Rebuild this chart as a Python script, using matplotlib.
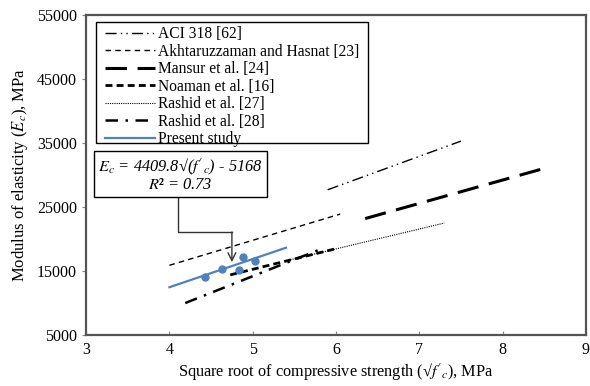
import matplotlib
matplotlib.use("Agg")
import matplotlib.pyplot as plt
from matplotlib.patches import Rectangle

plt.rcParams['font.family'] = ['Liberation Serif', 'DejaVu Serif']
plt.rcParams['mathtext.fontset'] = 'stix'

# model lines: end points (sqrt f'c, Ec)
aci_x = [5.9, 7.5]
aci_y = [27700, 35300]
akh_x = [4.0, 6.05]
akh_y = [15900, 23900]
mansur_x = [6.35, 8.57]
mansur_y = [23200, 31300]
noaman_x = [4.73, 6.0]
noaman_y = [14400, 18500]
rashid27_x = [5.4, 7.3]
rashid27_y = [16600, 22500]
rashid28_x = [4.19, 5.85]
rashid28_y = [10000, 18600]

# present study
fit_x = [4.0, 5.4]
fit_y = [4409.8 * v - 5168 for v in fit_x]
pts_x = [4.43, 4.63, 4.84, 4.88, 5.03]
pts_y = [14100, 15300, 15200, 17200, 16600]

fig = plt.figure(figsize=(5.9, 3.86), dpi=100)
ax = fig.add_axes([0.146, 0.132, 0.847, 0.829])

ax.plot(aci_x, aci_y, color='black', lw=1.0, dashes=(8, 3, 1, 3, 1, 3), label='ACI 318 [62]')
ax.plot(akh_x, akh_y, color='black', lw=1.0, dashes=(4, 3), label='Akhtaruzzaman and Hasnat [23]')
ax.plot(mansur_x, mansur_y, color='black', lw=2.2, dashes=(7, 3.5), label='Mansur et al. [24]')
ax.plot(noaman_x, noaman_y, color='black', lw=2.0, dashes=(2.5, 1.5), label='Noaman et al. [16]')
ax.plot(rashid27_x, rashid27_y, color='black', lw=0.8, dashes=(1, 1), label='Rashid et al. [27]')
ax.plot(rashid28_x, rashid28_y, color='black', lw=1.8, dashes=(5, 3, 1, 3), label='Rashid et al. [28]')
ax.plot(fit_x, fit_y, color='#4F81BD', lw=1.6, label='Present study')
ax.plot(pts_x, pts_y, 'o', color='#4F81BD', ms=5, zorder=5)

ax.set_xlim(3, 9)
ax.set_ylim(5000, 55000)
ax.set_xticks(range(3, 10))
ax.set_yticks(range(5000, 55001, 10000))
ax.tick_params(axis='x', direction='in', length=3, labelsize=11.5, color='#888888', pad=5)
ax.tick_params(axis='y', direction='out', length=3, labelsize=11.5, color='#888888')
for s in ax.spines.values():
    s.set_color('#555555')
    s.set_linewidth(1.6)

ax.set_xlabel(r"Square root of compressive strength (√$f'_c$), MPa", fontsize=11.7, labelpad=2)
ax.set_ylabel(r"Modulus of elasticity ($E_c$), MPa", fontsize=12, labelpad=5)

# legend entries without frame, tight box drawn separately
leg = ax.legend(loc='upper left', bbox_to_anchor=(0.03, 0.978), borderaxespad=0,
                fontsize=11.2, handlelength=3.2, handletextpad=0.2, labelspacing=0.1,
                frameon=False, borderpad=0.25)
ax.add_patch(Rectangle((0.02, 0.6), 0.544, 0.378, transform=ax.transAxes,
                       fill=False, ec='black', lw=1.0, zorder=6))

# equation box and arrow
ax.text(4.13, 30000, "$E_c$ = 4409.8√($f'_c$) - 5168\n$R²$ = 0.73", ha='center', va='center',
        fontsize=11.8, style='italic', linespacing=1.0,
        bbox=dict(boxstyle='square,pad=0.25', fc='white', ec='black', lw=1.0))
ax.plot([4.1, 4.1, 4.75], [26800, 21100, 21100], color='#333333', lw=1.0)
ax.annotate('', xy=(4.75, 16400), xytext=(4.75, 21100),
            arrowprops=dict(arrowstyle='->', color='#333333', lw=1.0, mutation_scale=14,
                            shrinkA=0, shrinkB=0))

fig.savefig('out.png', dpi=100)
